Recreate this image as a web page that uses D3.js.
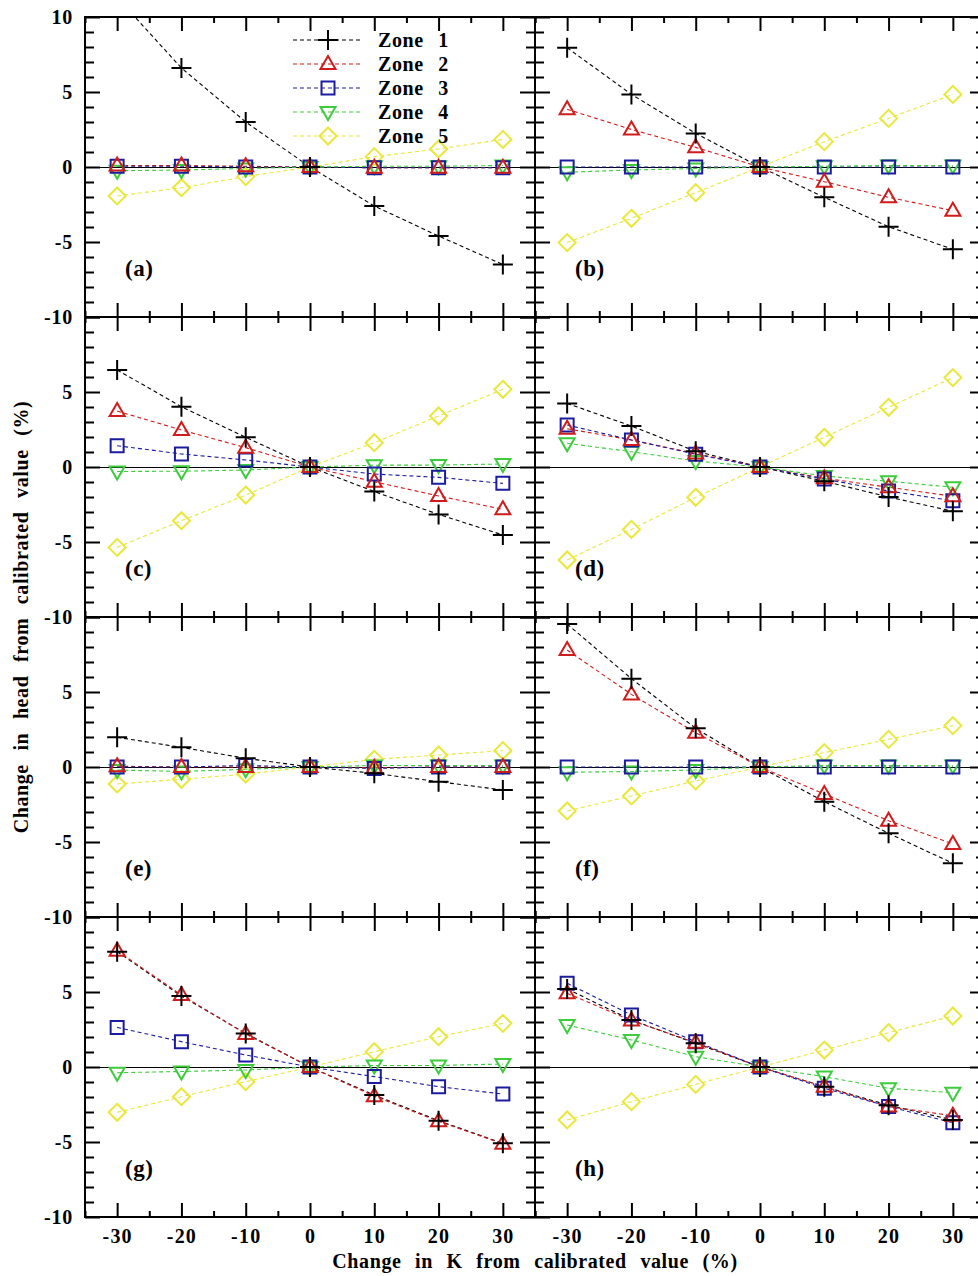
<!DOCTYPE html>
<html>
<head>
<meta charset="utf-8">
<script src="https://cdn.jsdelivr.net/npm/d3@7"></script>
<style>
  html, body { margin: 0; padding: 0; background: #fff; }
  svg { display: block; }
  text { font-family: "Liberation Serif", "Times New Roman", serif; font-weight: bold; fill: #000; }
</style>
</head>
<body>
<svg id="chart" width="978" height="1276"></svg>
<script>
// Change in hydraulic conductivity K (%) applied to each run
const kChange = [-30, -20, -10, 0, 10, 20, 30];

const zoneNames = ["Zone 1", "Zone 2", "Zone 3", "Zone 4", "Zone 5"];
const zoneColors = ["#000000", "#d01c1c", "#1c1ca0", "#3ccc3c", "#e8e83a"];
const zoneSymbols = ["plus", "triangle", "square", "triangleDown", "diamond"];

// Change in head (%) for Zone 1..5, one array per observation panel
const panelA = [
  [11.3, 6.6, 3.0, 0, -2.6, -4.6, -6.5],
  [0.1, 0.1, 0.05, 0, -0.05, -0.05, -0.05],
  [0.05, 0.05, 0.0, 0, -0.05, -0.05, -0.05],
  [-0.25, -0.2, -0.1, 0, 0.05, 0.05, 0.1],
  [-1.93, -1.38, -0.64, 0, 0.69, 1.2, 1.84]
];
const panelB = [
  [7.95, 4.84, 2.24, 0, -2.02, -3.98, -5.49],
  [3.85, 2.5, 1.31, 0, -0.98, -2.02, -2.91],
  [0.0, 0.0, 0.0, 0, 0.0, 0.0, 0.0],
  [-0.35, -0.2, -0.1, 0, 0.05, 0.1, 0.1],
  [-5.04, -3.42, -1.71, 0, 1.69, 3.24, 4.84]
];
const panelC = [
  [6.47, 4.02, 1.98, 0, -1.64, -3.16, -4.53],
  [3.73, 2.47, 1.29, 0, -0.98, -1.93, -2.82],
  [1.42, 0.87, 0.47, 0, -0.47, -0.69, -1.09],
  [-0.3, -0.28, -0.2, 0, 0.12, 0.13, 0.2],
  [-5.36, -3.58, -1.87, 0, 1.62, 3.4, 5.18]
];
const panelD = [
  [4.24, 2.73, 1.05, 0, -0.95, -2.0, -2.95],
  [2.55, 1.8, 0.9, 0, -0.75, -1.35, -1.95],
  [2.8, 1.8, 0.85, 0, -0.8, -1.6, -2.25],
  [1.58, 1.02, 0.4, 0, -0.6, -0.95, -1.35],
  [-6.2, -4.16, -2.02, 0, 1.98, 3.98, 5.96]
];
const panelE = [
  [1.98, 1.31, 0.58, 0, -0.42, -0.98, -1.53],
  [0.05, 0.0, 0.0, 0, -0.05, 0.0, 0.0],
  [0.0, 0.0, 0.1, 0, -0.1, 0.0, 0.0],
  [-0.2, -0.3, -0.15, 0, 0.1, 0.1, 0.1],
  [-1.13, -0.82, -0.47, 0, 0.51, 0.8, 1.09]
];
const panelF = [
  [9.53, 5.89, 2.58, 0, -2.31, -4.42, -6.42],
  [7.8, 4.84, 2.29, 0, -1.8, -3.58, -5.13],
  [0.0, 0.0, 0.0, 0, 0.0, 0.0, 0.0],
  [-0.35, -0.3, -0.2, 0, 0.1, 0.1, 0.1],
  [-2.93, -1.93, -0.93, 0, 0.96, 1.84, 2.76]
];
const panelG = [
  [7.69, 4.73, 2.24, 0, -1.87, -3.58, -5.09],
  [7.75, 4.8, 2.2, 0, -1.95, -3.62, -5.12],
  [2.64, 1.69, 0.8, 0, -0.64, -1.31, -1.8],
  [-0.38, -0.3, -0.2, 0, 0.1, 0.1, 0.2],
  [-3.02, -1.98, -0.98, 0, 1.02, 2.02, 2.91]
];
const panelH = [
  [5.2, 3.13, 1.58, 0, -1.31, -2.55, -3.53],
  [4.91, 3.1, 1.62, 0, -1.31, -2.64, -3.25],
  [5.58, 3.47, 1.69, 0, -1.42, -2.64, -3.71],
  [2.8, 1.8, 0.69, 0, -0.64, -1.42, -1.71],
  [-3.53, -2.31, -1.16, 0, 1.13, 2.29, 3.4]
];

const panels = [panelA, panelB, panelC, panelD, panelE, panelF, panelG, panelH];
const panelLetters = ["(a)", "(b)", "(c)", "(d)", "(e)", "(f)", "(g)", "(h)"];

const yTickLabels = [10, 5, 0, -5, -10];
const xTickLabels = [-30, -20, -10, 0, 10, 20, 30];

const xTitle = "Change in K from calibrated value (%)";
const yTitle = "Change in head from calibrated value (%)";

// ---- layout ----
const plotLeft = 85, plotTop = 17;
const pw = 450, ph = 300;
const fontSize = 20;

const svg = d3.select("#chart");

const x = d3.scaleLinear().domain([-35, 35]).range([0, pw]);
const y = d3.scaleLinear().domain([-10, 10]).range([ph, 0]);

const xMinor = d3.range(-35, 36, 5).filter(v => v % 10 !== 0);
const xMajor = xTickLabels;
const yMinor = d3.range(-10, 11, 1).filter(v => v % 5 !== 0);
const yMajor = [-10, -5, 0, 5, 10];

// plain hyphen-minus labels
const plainNum = d => String(d);

// marker shapes, drawn as outlines
function symbolPath(kind) {
  switch (kind) {
    case "plus": return "M-10,0H10M0,-10V10";
    case "triangle": return "M0,-8L7.5,5L-7.5,5Z";
    case "triangleDown": return "M0,8L7.5,-5L-7.5,-5Z";
    case "square": return "M-6.5,-6.5H6.5V6.5H-6.5Z";
    case "diamond": return "M0,-8.5L8.5,0L0,8.5L-8.5,0Z";
  }
}

function styleTicks(g, width) {
  g.select(".domain").remove();
  g.selectAll(".tick line").attr("stroke", "#000").attr("stroke-width", width);
  g.selectAll(".tick text").remove();
}

const defs = svg.append("defs");

panels.forEach((series, i) => {
  const col = i % 2, row = Math.floor(i / 2);
  const ox = plotLeft + col * pw, oy = plotTop + row * ph;
  const g = svg.append("g").attr("transform", `translate(${ox},${oy})`);

  defs.append("clipPath").attr("id", "clip" + i)
    .append("rect").attr("x", -2).attr("y", 0).attr("width", pw + 4).attr("height", ph);

  // zero reference line
  g.append("line")
    .attr("x1", 0).attr("x2", pw).attr("y1", y(0) + 0.5).attr("y2", y(0) + 0.5)
    .attr("stroke", "#000").attr("stroke-width", 1);

  const data = g.append("g").attr("clip-path", `url(#clip${i})`);
  const line = d3.line().x((d, j) => x(kChange[j])).y(d => y(d));

  series.forEach((vals, z) => {
    data.append("path")
      .attr("d", line(vals))
      .attr("fill", "none")
      .attr("stroke", zoneColors[z])
      .attr("stroke-width", 1.1)
      .attr("stroke-dasharray", "4,3");
  });
  for (let z = series.length - 1; z >= 0; z--) {
    data.selectAll(null)
      .data(series[z])
      .join("path")
      .attr("transform", (d, j) => `translate(${x(kChange[j])},${y(d)})`)
      .attr("d", symbolPath(zoneSymbols[z]))
      .attr("fill", "none")
      .attr("stroke", zoneColors[z])
      .attr("stroke-width", 2);
  }

  // inward ticks on all four sides
  const tickW = 2;
  g.append("g").attr("transform", `translate(0,${ph})`)
    .call(d3.axisTop(x).tickValues(xMajor).tickSize(14)).call(s => styleTicks(s, tickW));
  g.append("g").attr("transform", `translate(0,${ph})`)
    .call(d3.axisTop(x).tickValues(xMinor).tickSize(6)).call(s => styleTicks(s, tickW));
  g.append("g")
    .call(d3.axisBottom(x).tickValues(xMajor).tickSize(14)).call(s => styleTicks(s, tickW));
  g.append("g")
    .call(d3.axisBottom(x).tickValues(xMinor).tickSize(6)).call(s => styleTicks(s, tickW));
  g.append("g")
    .call(d3.axisRight(y).tickValues(yMajor).tickSize(15)).call(s => styleTicks(s, tickW));
  g.append("g")
    .call(d3.axisRight(y).tickValues(yMinor).tickSize(9)).call(s => styleTicks(s, tickW));
  g.append("g").attr("transform", `translate(${pw},0)`)
    .call(d3.axisLeft(y).tickValues(yMajor).tickSize(15)).call(s => styleTicks(s, tickW));
  g.append("g").attr("transform", `translate(${pw},0)`)
    .call(d3.axisLeft(y).tickValues(yMinor).tickSize(9)).call(s => styleTicks(s, tickW));

  // frame
  g.append("rect")
    .attr("width", pw).attr("height", ph)
    .attr("fill", "none").attr("stroke", "#000").attr("stroke-width", 2);

  // panel letter
  g.append("text")
    .attr("x", 40).attr("y", 259)
    .attr("font-size", 23)
    .attr("letter-spacing", 0.5)
    .text(panelLetters[i]);

  // y tick labels on the left column
  if (col === 0) {
    const labels = row === 0 ? yTickLabels : yTickLabels.filter(v => v !== 10);
    const ya = g.append("g")
      .call(d3.axisLeft(y).tickValues(labels).tickSize(0).tickPadding(12).tickFormat(plainNum));
    ya.select(".domain").remove();
    ya.selectAll("text")
      .attr("font-family", null).attr("font-size", fontSize)
      .attr("letter-spacing", 0.8)
      .attr("dy", "0.34em");
  }

  // x tick labels on the bottom row
  if (row === 3) {
    const xa = g.append("g").attr("transform", `translate(0,${ph})`)
      .call(d3.axisBottom(x).tickValues(xTickLabels).tickSize(0).tickPadding(12).tickFormat(plainNum));
    xa.select(".domain").remove();
    xa.selectAll("text")
      .attr("font-family", null).attr("font-size", fontSize)
      .attr("letter-spacing", 1.2);
  }

  // legend in the first panel
  if (i === 0) {
    const lg = g.append("g");
    zoneNames.forEach((name, z) => {
      const cy = 23 + z * 24;
      lg.append("line")
        .attr("x1", 208).attr("x2", 278).attr("y1", cy).attr("y2", cy)
        .attr("stroke", zoneColors[z]).attr("stroke-width", 1.1)
        .attr("stroke-dasharray", "4,3");
      lg.append("path")
        .attr("transform", `translate(243,${cy})`)
        .attr("d", symbolPath(zoneSymbols[z]))
        .attr("fill", "none").attr("stroke", zoneColors[z]).attr("stroke-width", 2);
      lg.append("text")
        .attr("x", 293).attr("y", cy + 6.5)
        .attr("font-size", fontSize)
        .attr("letter-spacing", 0.6)
        .attr("word-spacing", 9)
        .text(name);
    });
  }
});

// axis titles
svg.append("text")
  .attr("x", plotLeft + pw).attr("y", 1268)
  .attr("text-anchor", "middle")
  .attr("font-size", fontSize)
  .attr("letter-spacing", 0.6)
  .attr("word-spacing", 8)
  .text(xTitle);

svg.append("text")
  .attr("transform", `translate(28,${plotTop + 2 * ph}) rotate(-90)`)
  .attr("text-anchor", "middle")
  .attr("font-size", fontSize)
  .attr("letter-spacing", 0.6)
  .attr("word-spacing", 8)
  .text(yTitle);
</script>
</body>
</html>
